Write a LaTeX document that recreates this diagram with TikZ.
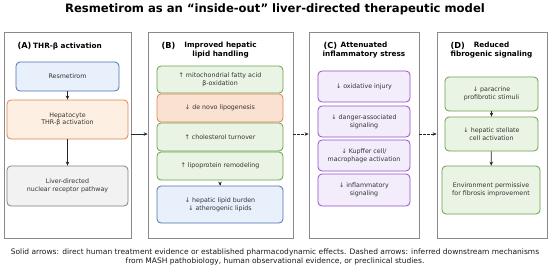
\documentclass[tikz,border=0pt]{standalone}
\usepackage{fontspec}
\setmainfont{DejaVu Sans}
\usetikzlibrary{arrows.meta}
\definecolor{panelgray}{HTML}{8A8A8A}
\definecolor{textgray}{HTML}{333333}
\definecolor{bluefill}{HTML}{E8F0FB}
\definecolor{blueline}{HTML}{4C72B0}
\definecolor{orangefill}{HTML}{FDF0E3}
\definecolor{salmonfill}{HTML}{FBE1D2}
\definecolor{orangeline}{HTML}{DD8452}
\definecolor{greenfill}{HTML}{EAF4E5}
\definecolor{greenline}{HTML}{6A9F4A}
\definecolor{purplefill}{HTML}{F3ECFB}
\definecolor{purpleline}{HTML}{9450C8}
\definecolor{grayfill}{HTML}{F2F2F2}
\definecolor{grayline}{HTML}{808080}

\begin{document}
\begin{tikzpicture}[x=1pt,y=-1pt,
  panel/.style={draw=panelgray, line width=0.7pt, fill=white, inner sep=0pt,
    minimum width=#1, minimum height=206pt},
  tag/.style={anchor=west, font=\fontsize{8.2}{10}\selectfont\bfseries},
  head/.style={align=center, font=\fontsize{7.3}{8.2}\selectfont\bfseries},
  box/.style={rounded corners=4pt, line width=0.8pt, align=center, inner sep=1pt,
    text=textgray, font=\fontsize{6.3}{7.6}\selectfont},
  wh/.style 2 args={minimum width=#1, minimum height=#2},
  bluebox/.style={box, draw=blueline, fill=bluefill},
  orangebox/.style={box, draw=orangeline, fill=orangefill},
  salmonbox/.style={box, draw=orangeline, fill=salmonfill},
  greenbox/.style={box, draw=greenline, fill=greenfill},
  purplebox/.style={box, draw=purpleline, fill=purplefill},
  graybox/.style={box, draw=grayline, fill=grayfill},
  arr/.style={-{Stealth[length=4pt,width=3.5pt]}, line width=0.8pt, draw=black!85},
  darr/.style={arr, dash pattern=on 2.5pt off 1.5pt}]
  \useasboundingbox (0,0) rectangle (550,269);

  \node[font=\fontsize{11.6}{13}\selectfont\bfseries] (title) at (275,9)
    {Resmetirom as an “inside-out” liver-directed therapeutic model};

  \node[panel=127pt] (pA) at (67.5,135) {};
  \node[panel=145pt] (pB) at (220.5,135) {};
  \node[panel=110pt] (pC) at (364,135) {};
  \node[panel=110pt] (pD) at (492,135) {};

  \node[tag] (tA) at (14,46) {(A)};
  \node[head] (hA) at (67.5,46) {THR-β activation};
  \node[tag] (tB) at (158,46) {(B)};
  \node[head] (hB) at (220.5,50) {Improved hepatic\\lipid handling};
  \node[tag] (tC) at (320,46) {(C)};
  \node[head] (hC) at (364,50) {Attenuated\\inflammatory stress};
  \node[tag] (tD) at (447,46) {(D)};
  \node[head] (hD) at (491.5,50) {Reduced\\fibrogenic signaling};

  \node[bluebox, wh={103pt}{29pt}] (resm) at (67.5,76.5) {Resmetirom};
  \node[orangebox, wh={121pt}{39pt}] (hepa) at (67.5,119.5) {Hepatocyte\\THR-β activation};
  \node[graybox, wh={121pt}{40pt}] (liver) at (67.5,186) {Liver-directed\\nuclear receptor pathway};

  \node[greenbox, wh={126pt}{27pt}] (mito) at (220,79.5) {↑ mitochondrial fatty acid\\β-oxidation};
  \node[salmonbox, wh={126pt}{28pt}] (dnl) at (220,108) {↓ de novo lipogenesis};
  \node[greenbox, wh={126pt}{28pt}] (chol) at (220,137) {↑ cholesterol turnover};
  \node[greenbox, wh={126pt}{28pt}] (lipo) at (220,166) {↑ lipoprotein remodeling};
  \node[bluebox, wh={126pt}{37pt}] (burden) at (220,204.5) {↓ hepatic lipid burden\\↓ atherogenic lipids};

  \node[purplebox, wh={92pt}{31pt}] (oxid) at (364,86.5) {↓ oxidative injury};
  \node[purplebox, wh={92pt}{31pt}] (damp) at (364,121.5) {↓ danger-associated\\signaling};
  \node[purplebox, wh={92pt}{31pt}] (kupf) at (364,155.5) {↓ Kupffer cell/\\macrophage activation};
  \node[purplebox, wh={92pt}{32pt}] (infl) at (364,190) {↓ inflammatory\\signaling};

  \node[greenbox, wh={93pt}{34pt}] (para) at (491.5,94) {↓ paracrine\\profibrotic stimuli};
  \node[greenbox, wh={93pt}{34pt}] (hsc) at (491.5,134) {↓ hepatic stellate\\cell activation};
  \node[greenbox, wh={98pt}{48pt}] (envi) at (491,190) {Environment permissive\\for fibrosis improvement};

  \draw[arr] (resm) -- (hepa);
  \draw[arr] (hepa) -- (liver);
  \draw[arr] ([yshift=-5pt]lipo.south) -- (burden.north);
  \draw[arr] (para) -- (hsc);
  \draw[arr] (hsc) -- (envi);
  \draw[arr] (pA.east |- 0,134) -- (pB.west |- 0,134);
  \draw[darr] (pB.east |- 0,134) -- (pC.west |- 0,134);
  \draw[darr] (pC.east |- 0,134) -- (pD.west |- 0,134);

  \node[align=center, text=black!90, font=\fontsize{7.5}{8.4}\selectfont] (note) at (275,257)
    {Solid arrows: direct human treatment evidence or established pharmacodynamic effects. Dashed arrows: inferred downstream mechanisms\\
     from MASH pathobiology, human observational evidence, or preclinical studies.};
\end{tikzpicture}
\end{document}
